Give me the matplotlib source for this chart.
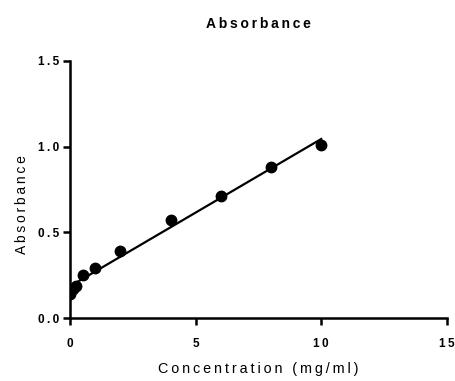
import numpy as np
import matplotlib.pyplot as plt

plt.rcParams['font.family'] = ['Liberation Sans', 'DejaVu Sans']

# standard curve data
conc = [0, 0.125, 0.25, 0.5, 1, 2, 4, 6, 8, 10]
absorb = [0.14, 0.17, 0.19, 0.25, 0.29, 0.39, 0.57, 0.71, 0.88, 1.01]
xticks = [0, 5, 10, 15]
yticks = [0.0, 0.5, 1.0, 1.5]


def spaced(s):
    # Prism-style letter spacing
    return '\u2009'.join(s)


fig = plt.figure(figsize=(4.55, 3.81), dpi=100)
ax = fig.add_axes([0.154, 0.165, 0.828, 0.675])

ax.plot(conc, absorb, 'o', color='black', markersize=7.5, zorder=3)

slope, icpt = np.polyfit(conc, absorb, 1)
fx = np.array([min(conc), max(conc)])
ax.plot(fx, slope * fx + icpt, color='black', linewidth=1.6)

ax.set_xlim(0, 15)
ax.set_ylim(0, 1.5)
ax.set_xticks(xticks)
ax.set_yticks(yticks)
ax.set_xticklabels([spaced(str(t)) for t in xticks], fontweight='bold', fontsize=8.5)
ax.set_yticklabels([spaced('%.1f' % t) for t in yticks], fontweight='bold', fontsize=8.5)

for s in ['top', 'right']:
    ax.spines[s].set_visible(False)
for s in ['left', 'bottom']:
    ax.spines[s].set_linewidth(1.8)
ax.tick_params(direction='out', length=5, width=1.8, pad=3)
ax.tick_params(axis='x', pad=9)
ax.spines['left'].set_clip_on(False)
ax.spines['bottom'].set_clip_on(False)

ax.set_title(spaced('Absorbance'), fontweight='bold', fontsize=10, pad=23.5)
ax.set_xlabel(spaced('Concentration (mg/ml)'), fontsize=10.4, labelpad=9)
ax.set_ylabel(spaced('Absorbance'), fontsize=10)
ax.yaxis.set_label_coords(-0.11, 0.44)

plt.savefig('out.png', dpi=100)
